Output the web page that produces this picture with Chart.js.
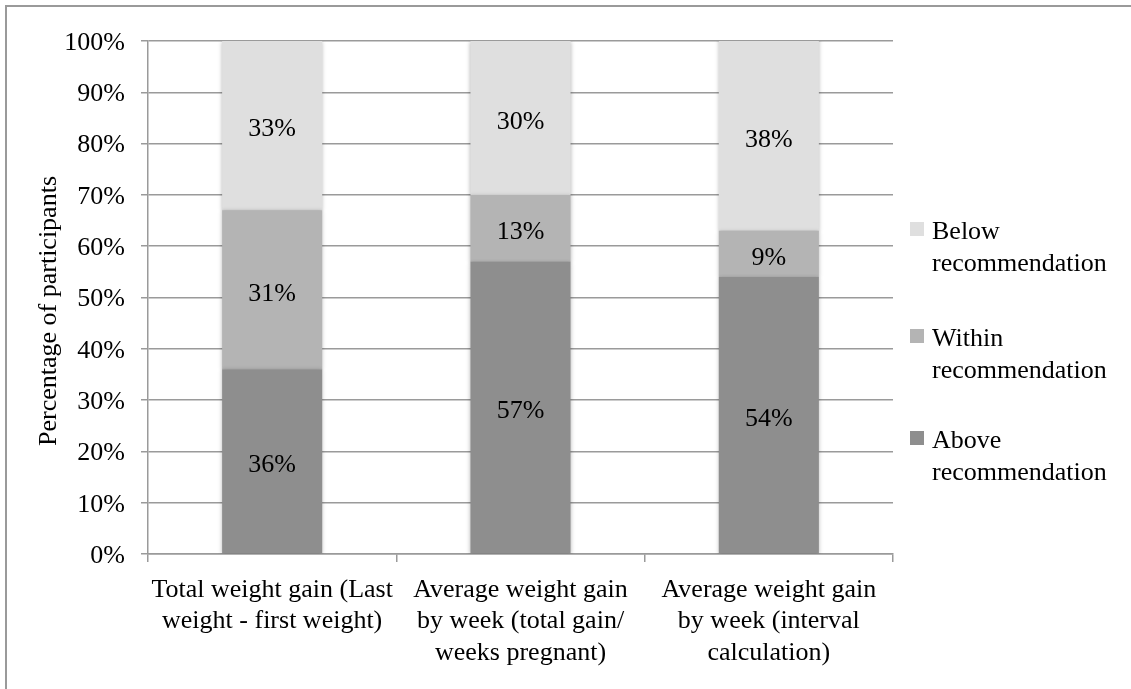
<!DOCTYPE html>
<html>
<head>
<meta charset="utf-8">
<script src="https://cdn.jsdelivr.net/npm/chart.js@4/dist/chart.umd.min.js"></script>
<style>
  html, body { margin: 0; padding: 0; background: #fff; overflow: hidden; }
  #wrap { position: relative; width: 1131px; height: 689px; overflow: hidden; }
  #frame { position: absolute; left: 5px; top: 5px; width: 1200px; height: 800px;
           border-top: 2px solid #9a9a9a; border-left: 2px solid #9a9a9a; }
  canvas { position: absolute; left: 0; top: 0; }
</style>
</head>
<body>
<div id="wrap">
  <div id="frame"></div>
  <canvas id="chart" width="1131" height="689"></canvas>
</div>
<script>
// Weight gain categories (multi-line axis labels)
const categories = [
  ['Total weight gain (Last', 'weight - first weight)'],
  ['Average weight gain', 'by week (total gain/', 'weeks pregnant)'],
  ['Average weight gain', 'by week (interval', 'calculation)']
];
const seriesNames = ['Above recommendation', 'Within recommendation', 'Below recommendation'];
const aboveValues  = [36, 57, 54];
const withinValues = [31, 13, 9];
const belowValues  = [33, 30, 38];
const seriesColors = ['#8e8e8e', '#b4b4b4', '#dfdfdf'];
const yTickValues = [0, 10, 20, 30, 40, 50, 60, 70, 80, 90, 100];

const FONT = '"Liberation Serif", "Times New Roman", serif';
const GRID = '#9a9a9a';

// Soft shadow around the bar segments
const barShadow = {
  id: 'barShadow',
  beforeDatasetsDraw(chart) {
    const ctx = chart.ctx;
    ctx.save();
    ctx.shadowColor = 'rgba(0,0,0,0.28)';
    ctx.shadowBlur = 4;
    ctx.shadowOffsetX = 0;
    ctx.shadowOffsetY = 1;
  },
  afterDatasetsDraw(chart) {
    chart.ctx.restore();
  }
};

// Percentage labels centred in each visible segment
const segmentLabels = {
  id: 'segmentLabels',
  afterDatasetsDraw(chart) {
    const ctx = chart.ctx;
    const area = chart.chartArea;
    ctx.save();
    ctx.font = '26px ' + FONT;
    ctx.fillStyle = '#000';
    ctx.textAlign = 'center';
    ctx.textBaseline = 'middle';
    chart.data.datasets.forEach((ds, i) => {
      chart.getDatasetMeta(i).data.forEach((el, j) => {
        const top = Math.max(Math.min(el.y, el.base), area.top);
        const bottom = Math.min(Math.max(el.y, el.base), area.bottom);
        ctx.fillText(ds.data[j] + '%', el.x, (top + bottom) / 2 + 4);
      });
    });
    ctx.restore();
  }
};

// Y axis title and right-hand legend
const sideText = {
  id: 'sideText',
  afterDraw(chart) {
    const ctx = chart.ctx;
    ctx.save();
    ctx.font = '26px ' + FONT;
    ctx.fillStyle = '#000';
    // axis title
    ctx.save();
    ctx.translate(49, 311);
    ctx.rotate(-Math.PI / 2);
    ctx.textAlign = 'center';
    ctx.textBaseline = 'middle';
    ctx.fillText('Percentage of participants', 0, 0);
    ctx.restore();
    // legend, top entry is the last series
    const baselines = [239, 346, 448];
    ctx.textAlign = 'left';
    ctx.textBaseline = 'alphabetic';
    const order = chart.data.datasets.map((d, i) => i).reverse();
    order.forEach((dsIndex, k) => {
      const ds = chart.data.datasets[dsIndex];
      const b = baselines[k];
      ctx.fillStyle = ds.backgroundColor;
      ctx.fillRect(910, b - 17, 14, 14);
      ctx.fillStyle = '#000';
      const words = ds.label.split(' ');
      words.forEach((w, li) => ctx.fillText(w, 932, b + li * 32));
    });
    ctx.restore();
  }
};

new Chart(document.getElementById('chart'), {
  type: 'bar',
  data: {
    labels: categories,
    datasets: [aboveValues, withinValues, belowValues].map((vals, i) => ({
      label: seriesNames[i],
      data: vals,
      backgroundColor: seriesColors[i],
      borderWidth: 0,
      categoryPercentage: 1,
      barPercentage: 0.403
    }))
  },
  options: {
    responsive: false,
    devicePixelRatio: 1,
    animation: false,
    layout: { padding: { top: 41, right: 238, bottom: 0, left: 0 } },
    plugins: { legend: { display: false }, tooltip: { enabled: false } },
    scales: {
      x: {
        stacked: true,
        grid: { drawOnChartArea: false, drawTicks: true, tickLength: 8, color: GRID, lineWidth: 1.5 },
        border: { display: true, color: GRID, width: 1.5 },
        ticks: { font: { family: FONT, size: 26, lineHeight: 1.22 }, color: '#000', padding: 12, maxRotation: 0, autoSkip: false },
        afterFit(scale) { scale.height = 135; }
      },
      y: {
        stacked: true,
        min: 0,
        max: 100,
        afterBuildTicks(scale) { scale.ticks = yTickValues.map(v => ({ value: v })); },
        grid: { color: GRID, lineWidth: 1.5, tickLength: 7 },
        border: { display: true, color: GRID, width: 1.5 },
        ticks: { font: { family: FONT, size: 26 }, color: '#000', padding: 16, labelOffset: 2, callback: v => v + '%' },
        afterFit(scale) { scale.width = 148; }
      }
    }
  },
  plugins: [barShadow, segmentLabels, sideText]
});
</script>
</body>
</html>
